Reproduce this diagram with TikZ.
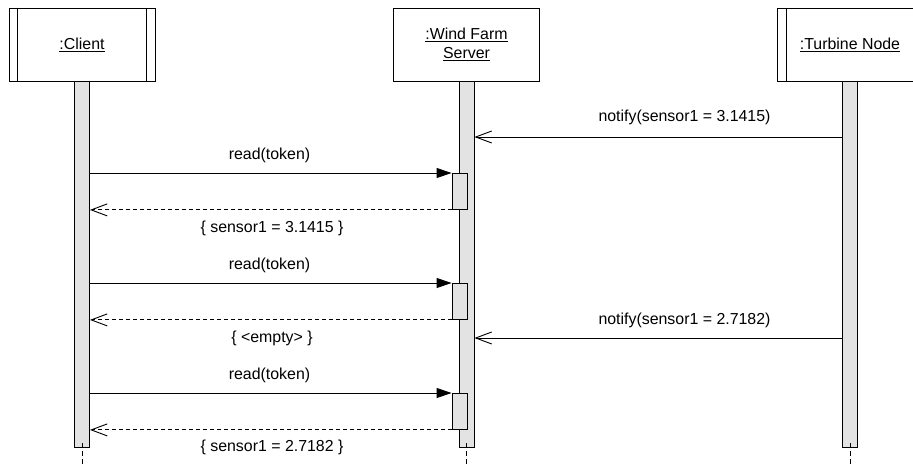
\documentclass[tikz,border=0pt]{standalone}
\usepackage{fontspec}
\setmainfont{Liberation Sans}
\usetikzlibrary{arrows.meta,calc}

\begin{document}
\begin{tikzpicture}[x=1pt,y=-1pt,
  every node/.style={font=\fontsize{15.9}{19.5}\selectfont, inner sep=0pt},
  objbox/.style={draw, line width=0.9pt, minimum width=146pt, minimum height=73pt, align=center},
  lifebar/.style={draw, line width=0.9pt, fill=black!11, minimum width=15pt, anchor=north},
  actbox/.style={draw, line width=0.9pt, fill=black!11, minimum width=15pt, minimum height=36pt, anchor=north},
  tail/.style={line width=0.9pt, dashed, dash pattern=on 5pt off 3pt},
  call/.style={line width=0.9pt, -{Triangle[length=15pt,width=10pt]}},
  reply/.style={line width=0.9pt, dashed, dash pattern=on 4pt off 3pt, -{Straight Barb[length=16pt,width=12pt,line width=0.9pt]}},
  signal/.style={line width=0.9pt, -{Straight Barb[length=16pt,width=12pt,line width=0.9pt]}},
  lbl/.style={anchor=center}
]
\useasboundingbox (0,0) rectangle (913,464);
\clip (0,0) rectangle (913,464);

% object heads
\node[objbox] (client) at (82,44.5) {\underline{:Client}};
\draw[line width=0.9pt] ([xshift=9pt]client.north west) -- ([xshift=9pt]client.south west);
\draw[line width=0.9pt] ([xshift=-9pt]client.north east) -- ([xshift=-9pt]client.south east);

\node[objbox] (server) at (466.5,44.5) {\underline{:Wind Farm}\\\underline{Server}};

\node[objbox] (turbine) at (850,44.5) {\underline{:Turbine Node}};
\draw[line width=0.9pt] ([xshift=10pt]turbine.north west) -- ([xshift=10pt]turbine.south west);
\draw[line width=0.9pt] ([xshift=-9pt]turbine.north east) -- ([xshift=-9pt]turbine.south east);

% lifelines
\node[lifebar, minimum height=366pt] (cbar) at (client.south) {};
\node[lifebar, minimum height=366pt] (sbar) at (server.south) {};
\node[lifebar, minimum height=366pt] (tbar) at (turbine.south) {};

\coordinate (cend) at (82,464);
\coordinate (send) at (466.5,464);
\coordinate (tend) at (850,464);
\draw[tail] ([yshift=5pt]cbar.south) -- (cend);
\draw[tail] ([yshift=5pt]sbar.south) -- (send);
\draw[tail] ([yshift=5pt]tbar.south) -- (tend);

% activations on the server
\node[actbox] (act1) at (459.5,173) {};
\node[actbox] (act2) at (459.5,283) {};
\node[actbox] (act3) at (459.5,393) {};

% first notification
\coordinate (n1) at (0,137);
\draw[signal] (tbar.west |- n1) -- (sbar.east |- n1);
\node[lbl] (n1lbl) at (684.5,117) {notify(sensor1 = 3.1415)};

% first read
\draw[call] (cbar.east |- act1.north) -- (act1.north west);
\node[lbl] (r1lbl) at (269.5,155) {read(token)};
\draw[reply] (act1.south west) -- (cbar.east |- act1.south);
\node[lbl] (v1lbl) at (272,228) {\{ sensor1 = 3.1415 \}};

% second read
\draw[call] (cbar.east |- act2.north) -- (act2.north west);
\node[lbl] (r2lbl) at (269.5,265) {read(token)};
\draw[reply] (act2.south west) -- (cbar.east |- act2.south);
\node[lbl] (v2lbl) at (272,338) {\{ <empty> \}};

% second notification
\coordinate (n2) at (0,338);
\draw[signal] (tbar.west |- n2) -- (sbar.east |- n2);
\node[lbl] (n2lbl) at (684.5,320) {notify(sensor1 = 2.7182)};

% third read
\draw[call] (cbar.east |- act3.north) -- (act3.north west);
\node[lbl] (r3lbl) at (269.5,375) {read(token)};
\draw[reply] (act3.south west) -- (cbar.east |- act3.south);
\node[lbl] (v3lbl) at (272,447) {\{ sensor1 = 2.7182 \}};
\end{tikzpicture}
\end{document}
